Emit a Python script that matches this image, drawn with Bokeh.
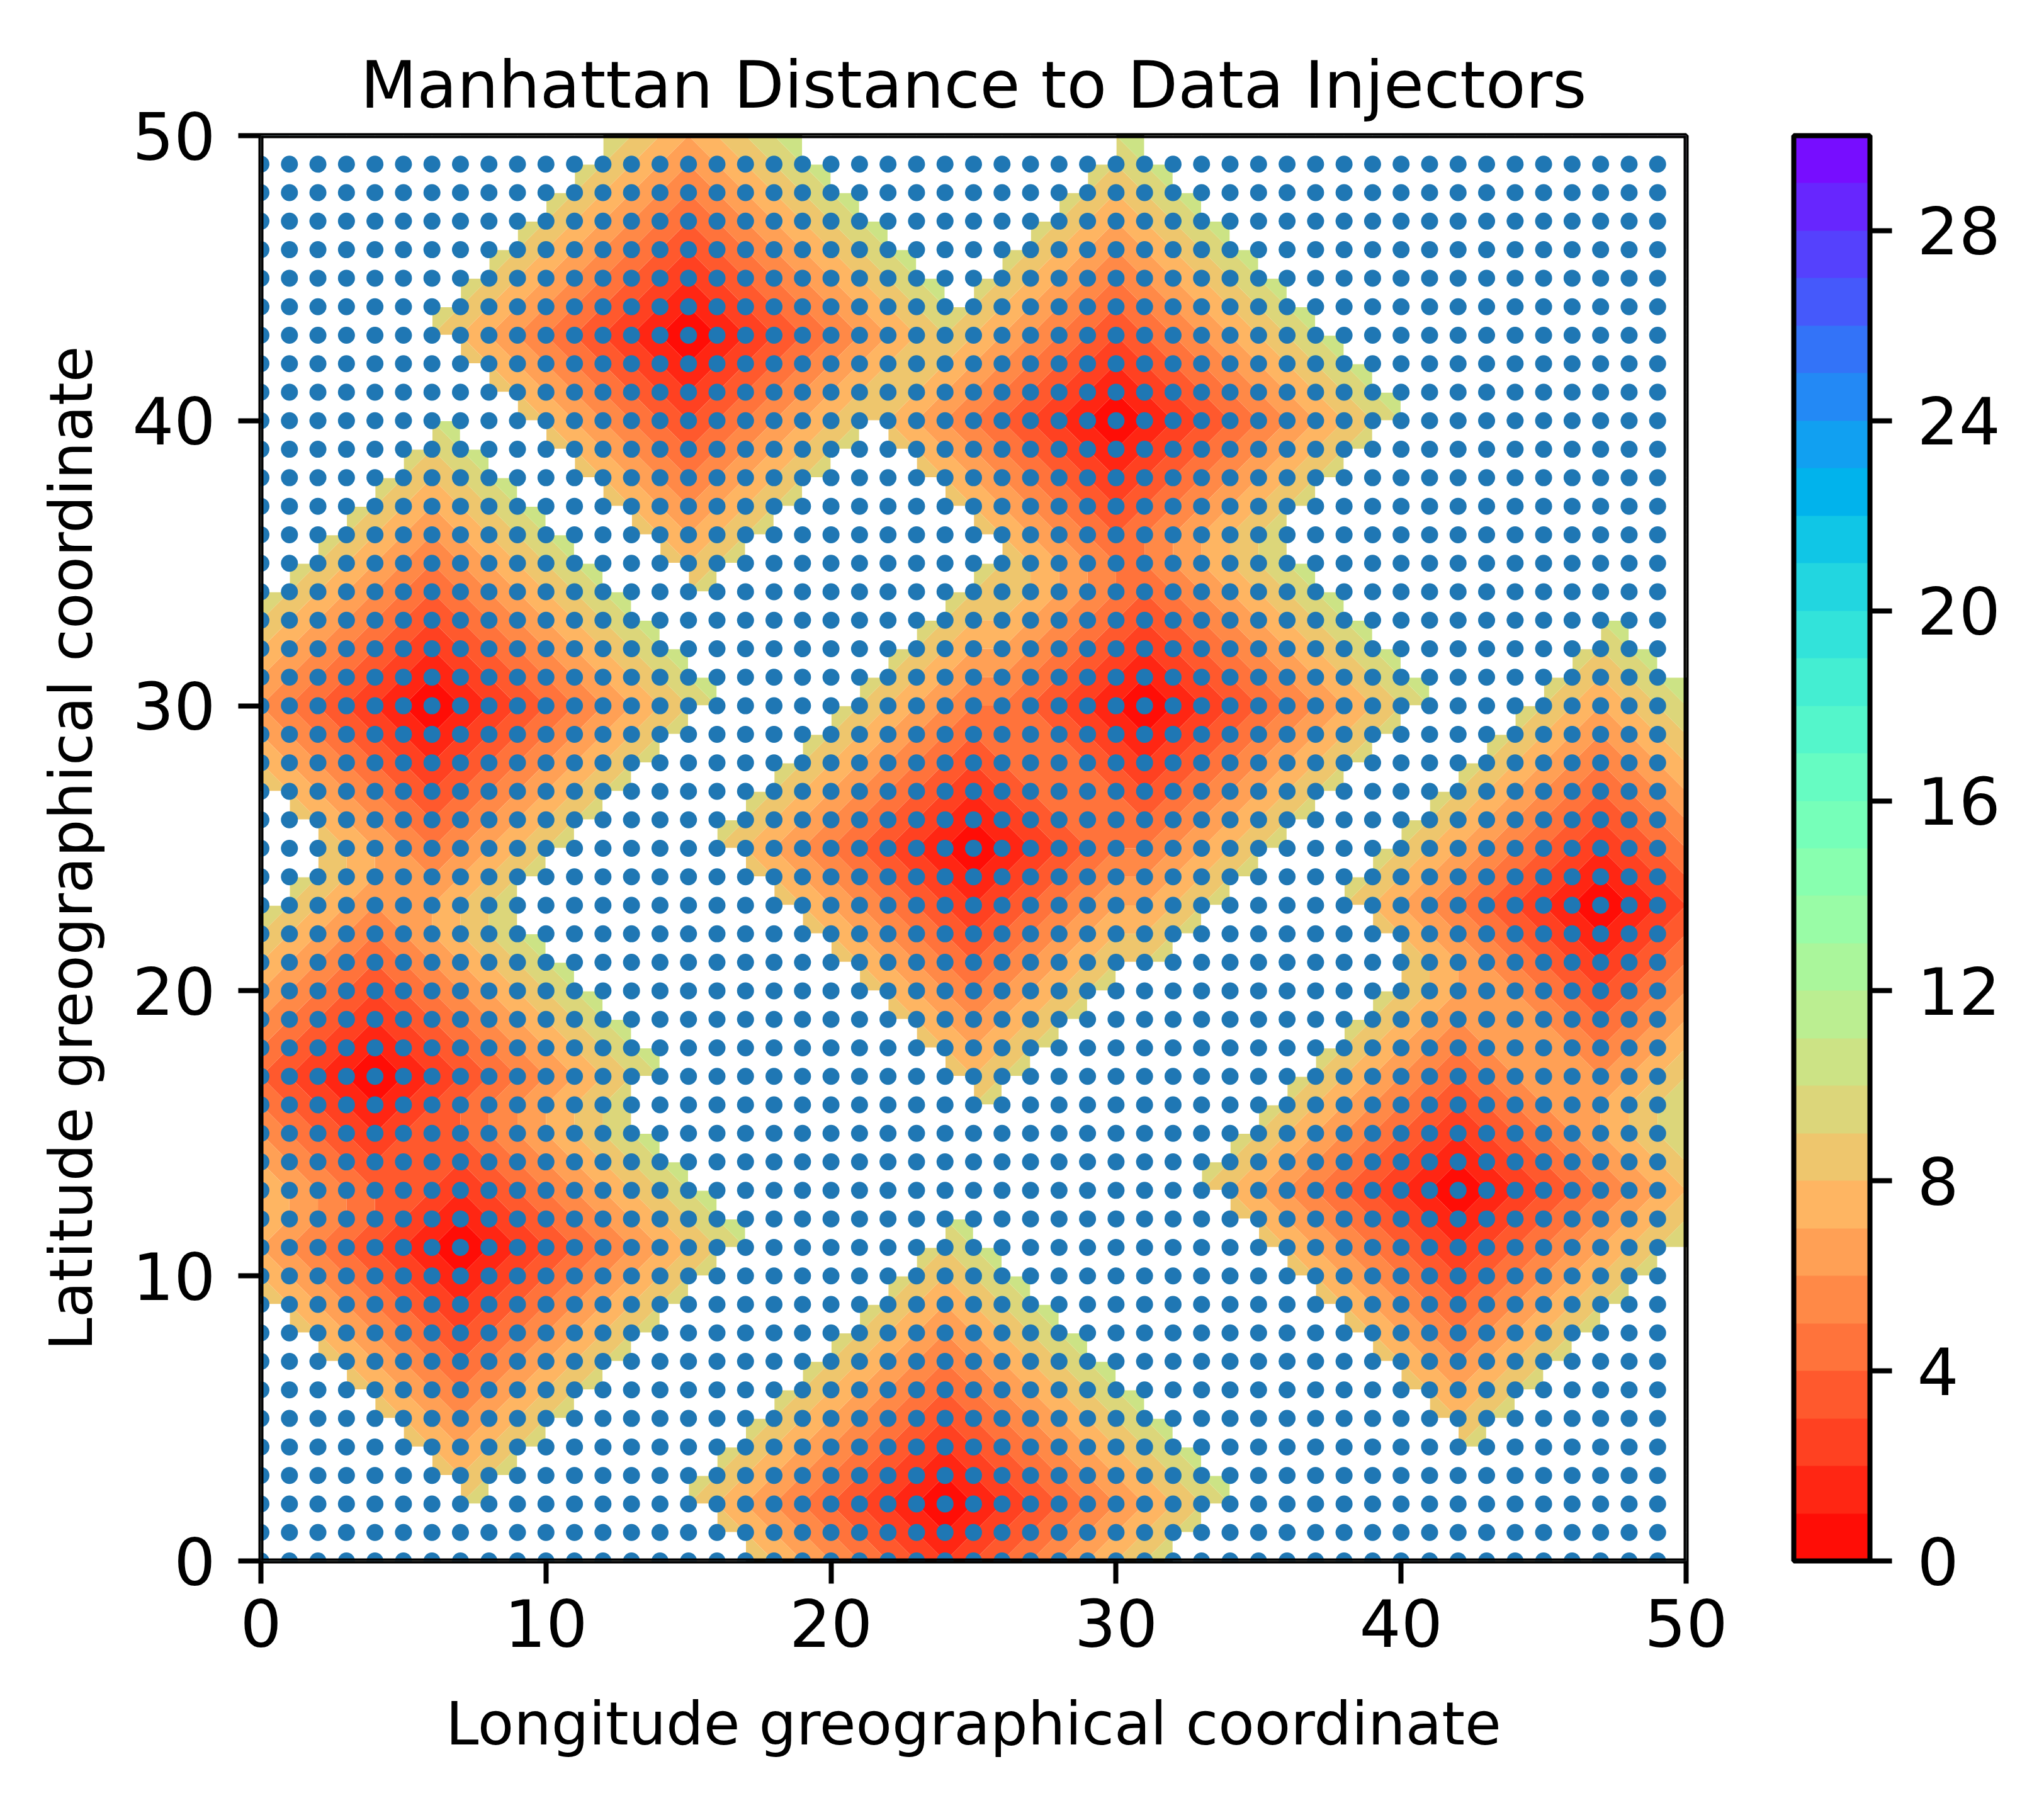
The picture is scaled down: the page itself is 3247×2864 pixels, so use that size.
import numpy as np
from bokeh.plotting import figure
from bokeh.models import Range1d, FixedTicker, LinearColorMapper, ColorBar, Span
from bokeh.embed import file_html
from bokeh.resources import INLINE

# ---------------- data ----------------
injector_x = [15, 30, 6, 31, 25, 47, 4, 7, 42, 24]
injector_y = [43, 40, 30, 30, 25, 23, 17, 11, 13, 2]
sensor_x = list(range(50))          # grid of sensor longitudes 0..49
sensor_y = list(range(50))          # grid of sensor latitudes 0..49
field_nodes = list(range(51))       # distance field evaluated on 0..50
shown_max_distance = 9              # cells farther than this are left blank
levels = list(range(31))            # contour levels 0..30
axis_ticks = [0, 10, 20, 30, 40, 50]
colorbar_ticks = [0, 4, 8, 12, 16, 20, 24, 28]

# ---------------- colormap: matplotlib 'rainbow_r' at band mid-points -------
def rainbow(x):
    r = np.clip(np.abs(2 * x - 0.5), 0, 1)
    g = np.clip(np.sin(np.pi * x), 0, 1)
    b = np.clip(np.cos(np.pi * x / 2), 0, 1)
    return r, g, b

N = 256
lo, hi = levels[0], levels[-1]
palette = []
for k in range(len(levels) - 1):
    mid = (levels[k] + levels[k + 1]) / 2
    idx = min(int((mid - lo) / (hi - lo) * N), N - 1)
    r, g, b = rainbow(1 - idx / (N - 1))
    palette.append("#%02x%02x%02x" % (int(round(r * 255)), int(round(g * 255)), int(round(b * 255))))

# ---------------- Manhattan distance field ----------------
gx = np.array(field_nodes, dtype=float)
GX, GY = np.meshgrid(gx, gx)
Z = np.min([np.abs(GX - xi) + np.abs(GY - yi) for xi, yi in zip(injector_x, injector_y)], axis=0)

cell_d = Z[:-1, :-1]   # value at lower-left corner of each unit cell
jj, ii = np.nonzero(cell_d > shown_max_distance)

# ---------------- figure ----------------
FONT = "DejaVu Sans"
p = figure(frame_width=2264, frame_height=2264,
           x_range=Range1d(0, 50), y_range=Range1d(0, 50),
           output_backend="svg", toolbar_location=None,
           min_border_left=414, min_border_right=553,
           min_border_top=215, min_border_bottom=369,
           background_fill_color="white", border_fill_color="white")

p.title.text = "Manhattan Distance to Data Injectors"
p.title.align = "center"
p.title.text_font = FONT
p.title.text_font_size = "104px"
p.title.text_font_style = "normal"
p.title.text_color = "black"
p.title.standoff = 40

p.contour(x=GX, y=GY, z=Z, levels=levels, fill_color=palette, line_color=None)

p.quad(left=ii, right=ii + 1, bottom=jj, top=jj + 1,
       fill_color="white", line_color="white", line_width=1.5)

SX, SY = np.meshgrid(sensor_x, sensor_y)
p.scatter(SX.ravel(), SY.ravel(), size=27, fill_color="#1f77b4", line_color=None)

p.xgrid.visible = False
p.ygrid.visible = False
# outer half of the spines
p.outline_line_color = "black"
p.outline_line_width = 8
# inner half of the spines, drawn above the glyphs
for loc, dim in ((0, "height"), (50, "height"), (0, "width"), (50, "width")):
    p.add_layout(Span(location=loc, dimension=dim, line_color="black", line_width=8))

for ax in (p.xaxis[0], p.yaxis[0]):
    ax.ticker = FixedTicker(ticks=axis_ticks)
    ax.minor_tick_line_color = None
    ax.major_tick_in = 0
    ax.major_tick_out = 36
    ax.major_tick_line_width = 8
    ax.major_tick_line_color = "black"
    ax.axis_line_color = None
    ax.major_label_text_font = FONT
    ax.major_label_text_font_size = "104px"
    ax.major_label_text_color = "black"
    ax.axis_label_text_font = FONT
    ax.axis_label_text_font_size = "94px"
    ax.axis_label_text_font_style = "normal"
    ax.axis_label_text_color = "black"

p.xaxis.axis_label = "Longitude greographical coordinate"
p.yaxis.axis_label = "Latitude greographical coordinate"
p.xaxis.major_label_standoff = 24
p.yaxis.major_label_standoff = 36
p.xaxis.axis_label_standoff = 65
p.yaxis.axis_label_standoff = 39

mapper = LinearColorMapper(palette=palette, low=levels[0], high=levels[-1])
cb = ColorBar(color_mapper=mapper, ticker=FixedTicker(ticks=colorbar_ticks),
              width=121, height=2264, location=(171, 0), margin=0, padding=0,
              bar_line_color="black", bar_line_width=8,
              border_line_color=None, background_fill_color=None,
              major_tick_in=0, major_tick_out=35, major_tick_line_width=8,
              major_tick_line_color="black", minor_tick_line_color=None,
              major_label_text_font=FONT, major_label_text_font_size="104px",
              major_label_text_color="black", label_standoff=40)
p.add_layout(cb, "right")

open("out.html", "w").write(file_html(p, INLINE))
